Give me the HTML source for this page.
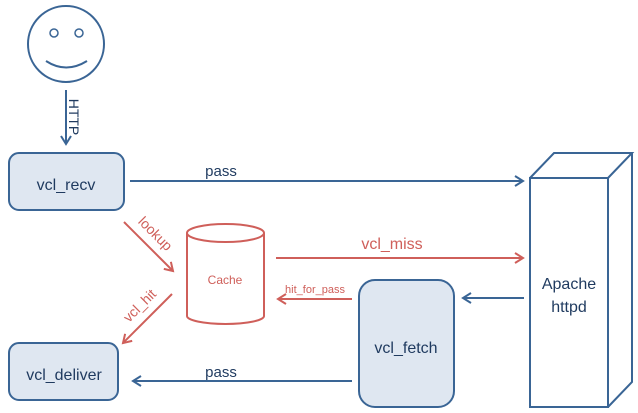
<!DOCTYPE html>
<html><head><style>body{margin:0;background:#fff}svg{display:block}text{font-family:"Liberation Sans",sans-serif}</style></head><body>
<svg width="638" height="413" viewBox="0 0 638 413">
<defs>
<marker id="ab" markerWidth="12" markerHeight="12" refX="10" refY="6" orient="auto" markerUnits="userSpaceOnUse"><path d="M2,1 L10,6 L2,11" fill="none" stroke="#3a6595" stroke-width="2"/></marker>
<marker id="ar" markerWidth="12" markerHeight="12" refX="10" refY="6" orient="auto" markerUnits="userSpaceOnUse"><path d="M2,1 L10,6 L2,11" fill="none" stroke="#cf5f5a" stroke-width="2"/></marker>
</defs>
<g fill="none" stroke="#3a6595" stroke-width="2">
<circle cx="66" cy="44" r="38"/>
<circle cx="54" cy="33" r="4" stroke-width="1.5"/><circle cx="79" cy="33" r="4" stroke-width="1.5"/>
<path d="M46,61 Q66,74 87,61"/>
<line x1="66" y1="90" x2="66" y2="144" marker-end="url(#ab)"/>
<rect x="9" y="153" width="115" height="57" rx="10" fill="#dfe7f1"/>
<rect x="9" y="343" width="109" height="57" rx="10" fill="#dfe7f1"/>
<rect x="359" y="280" width="95" height="127" rx="16" fill="#dfe7f1"/>
<line x1="130" y1="181" x2="523" y2="181" marker-end="url(#ab)"/>
<line x1="352" y1="381" x2="133" y2="381" marker-end="url(#ab)"/>
<line x1="524" y1="298" x2="463" y2="298" marker-end="url(#ab)"/>
<rect x="530" y="178" width="78" height="229"/>
<path d="M530,178 L554,153 L632,153 L608,178 M632,153 L632,382 L608,407"/>
</g>
<g fill="none" stroke="#cf5f5a" stroke-width="2">
<path d="M187,233 L187,316 A38.5,8 0 0 0 264,316 L264,233"/>
<ellipse cx="225.5" cy="233" rx="38.5" ry="9"/>
<line x1="276" y1="258" x2="523" y2="258" marker-end="url(#ar)"/>
<line x1="352" y1="299" x2="278" y2="299" marker-end="url(#ar)"/>
<line x1="124" y1="222" x2="173" y2="271" marker-end="url(#ar)"/>
<line x1="172" y1="294" x2="123" y2="343" marker-end="url(#ar)"/>
</g>
<g fill="#1f3a5f" font-size="16" text-anchor="middle">
<text x="66" y="190">vcl_recv</text>
<text x="64" y="380">vcl_deliver</text>
<text x="406" y="353">vcl_fetch</text>
<text x="569" y="289">Apache</text>
<text x="569" y="312">httpd</text>
<text x="221" y="176" font-size="15">pass</text>
<text x="221" y="377" font-size="15">pass</text>
<text transform="translate(69,117) rotate(90)" font-size="14">HTTP</text>
</g>
<g fill="#cf5f5a" text-anchor="middle">
<text x="392" y="249" font-size="16">vcl_miss</text>
<text x="315" y="293" font-size="11">hit_for_pass</text>
<text x="225" y="284" font-size="12">Cache</text>
<text transform="translate(152,237) rotate(45)" font-size="14">lookup</text>
<text transform="translate(143,309) rotate(-45)" font-size="14">vcl_hit</text>
</g>
</svg>
</body></html>
